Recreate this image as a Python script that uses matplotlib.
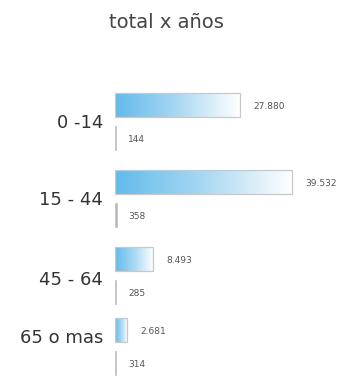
import numpy as np
import matplotlib
matplotlib.use("Agg")
import matplotlib.pyplot as plt
from matplotlib.patches import Rectangle
from matplotlib.colors import LinearSegmentedColormap

plt.rcParams['font.family'] = ['DejaVu Sans']

# Data
categories = ["0 -14", "15 - 44", "45 - 64", "65 o mas"]
totals = [27880, 39532, 8493, 2681]
secondary = [144, 358, 285, 314]
total_labels = ["27.880", "39.532", "8.493", "2.681"]
secondary_labels = ["144", "358", "285", "314"]

# Layout
W, H, DPI = 343, 378, 100
group_pos = np.array([0.0, 1.0, 2.0, 2.92])
label_pos = np.array([0.02, 1.02, 2.05, 2.81])
offset = 0.214
bar_h = 0.31
px_per_group = 77.0
ax_left_px = 115
xmax = (W - ax_left_px) / 0.00448

fig = plt.figure(figsize=(W / DPI, H / DPI), dpi=DPI)
ax = fig.add_axes([ax_left_px / W, 0, 1 - ax_left_px / W, 1])
# y axis: group index, 77 px per group, first group centre at 121.75 px from top
top = -121.75 / px_per_group
bottom = top + H / px_per_group

grad = np.linspace(0, 1, 256).reshape(1, -1)
cmap = LinearSegmentedColormap.from_list("fade", ["#62bbec", "#a9d8f3", "#ffffff"])

px = xmax / (W - ax_left_px)  # data units per pixel

for y, v, lab in zip(group_pos, totals, total_labels):
    y0 = y - offset - bar_h / 2
    y1 = y - offset + bar_h / 2
    ax.imshow(grad, cmap=cmap, aspect="auto", extent=(0, v, y1, y0),
              interpolation="bilinear", zorder=2)
    ax.add_patch(Rectangle((0, y0), v, bar_h, fill=False,
                           edgecolor="#c9c9c9", linewidth=0.9, zorder=3))
    ax.text(v + 13 * px, y - offset + 0.02, lab, fontsize=6.5, color="#555555",
            va="center", ha="left")

for y, v, lab in zip(group_pos, secondary, secondary_labels):
    ax.barh(y + offset, v, height=bar_h, color="#b8b8b8",
            edgecolor="#b8b8b8", linewidth=0.4, zorder=2)
    ax.text(v + 12 * px, y + offset + 0.02, lab, fontsize=6.5, color="#555555",
            va="center", ha="left")

for y, c in zip(label_pos, categories):
    ax.text(-12 * px, y, c, fontsize=13, color="#333333",
            va="center", ha="right", clip_on=False)

ax.set_ylim(bottom, top)
ax.set_xlim(0, xmax)
ax.axis("off")

fig.text(166 / W, 1 - 22 / H, "total x años", fontsize=14, color="#444444",
         ha="center", va="center")

fig.savefig("out.png", dpi=DPI, facecolor="white")
